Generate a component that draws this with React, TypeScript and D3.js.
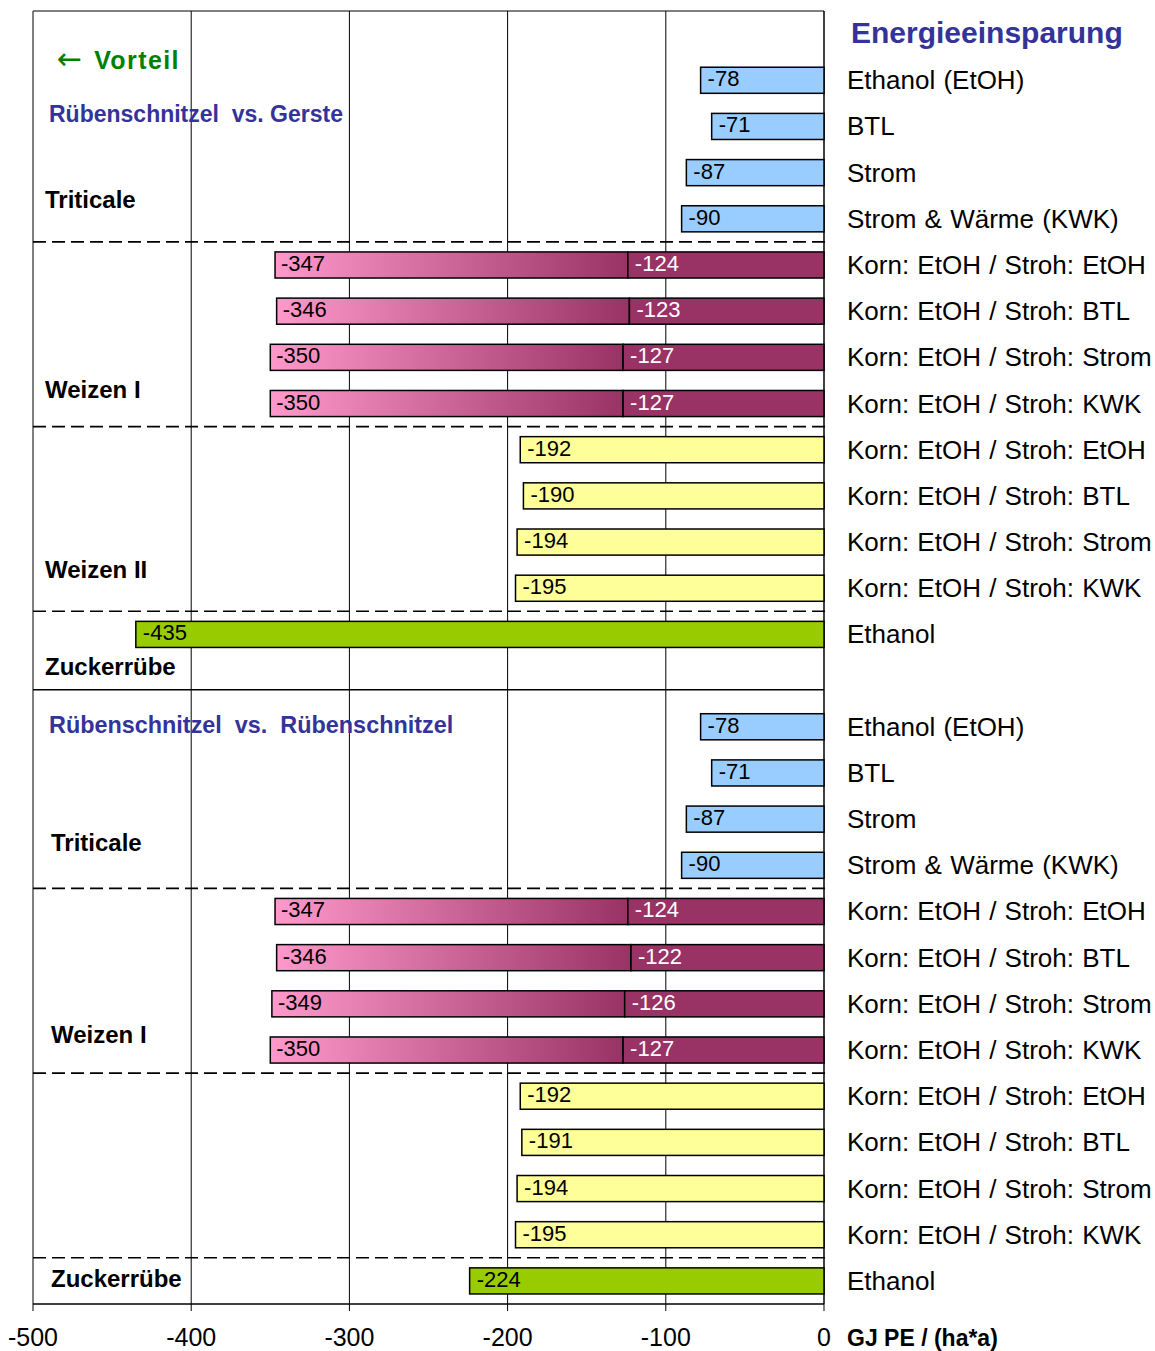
import React from "react";
import * as d3 from "d3";

// ---- data ----
const triticaleCats = ["Ethanol (EtOH)", "BTL", "Strom", "Strom & Wärme (KWK)"];
const wheatCats = [
  "Korn: EtOH / Stroh: EtOH",
  "Korn: EtOH / Stroh: BTL",
  "Korn: EtOH / Stroh: Strom",
  "Korn: EtOH / Stroh: KWK",
];
const sugarCats = ["Ethanol"];

const gersteTriticale = [-78, -71, -87, -90];
const gersteWeizenI = [-347, -346, -350, -350];
const gersteWeizenIKorn = [-124, -123, -127, -127];
const gersteWeizenII = [-192, -190, -194, -195];
const gersteZucker = [-435];

const rsTriticale = [-78, -71, -87, -90];
const rsWeizenI = [-347, -346, -349, -350];
const rsWeizenIKorn = [-124, -122, -126, -127];
const rsWeizenII = [-192, -191, -194, -195];
const rsZucker = [-224];

const xTicks = [-500, -400, -300, -200, -100, 0];
const gridTicks = [-400, -300, -200, -100];

const COLORS = {
  blue: "#99ccff",
  yellow: "#ffff99",
  green: "#99cc00",
  magenta: "#993366",
  pink: "#ff99cc",
  title: "#333399",
  vorteil: "#008000",
};

type Row = {
  row: number;
  label: string;
  kind: "blue" | "yellow" | "green" | "wheat";
  value: number;
  split?: number;
};

function buildHalf(start: number, tri: number[], w1: number[], w1k: number[], w2: number[], z: number[]): Row[] {
  const rows: Row[] = [];
  let r = start;
  tri.forEach((v, i) => rows.push({ row: r++, label: triticaleCats[i], kind: "blue", value: v }));
  w1.forEach((v, i) => rows.push({ row: r++, label: wheatCats[i], kind: "wheat", value: v, split: w1k[i] }));
  w2.forEach((v, i) => rows.push({ row: r++, label: wheatCats[i], kind: "yellow", value: v }));
  z.forEach((v, i) => rows.push({ row: r++, label: sugarCats[i], kind: "green", value: v }));
  return rows;
}

const rows: Row[] = [
  ...buildHalf(1, gersteTriticale, gersteWeizenI, gersteWeizenIKorn, gersteWeizenII, gersteZucker),
  ...buildHalf(15, rsTriticale, rsWeizenI, rsWeizenIKorn, rsWeizenII, rsZucker),
];

const dashedRows = [5, 9, 13, 19, 23, 27];

// group labels, positioned on the row scale (fractional row edges)
const groupLabels = [
  { text: "Triticale", row: 4.09, x: 45 },
  { text: "Weizen I", row: 8.21, x: 45 },
  { text: "Weizen II", row: 12.1, x: 45 },
  { text: "Zuckerrübe", row: 14.2, x: 45 },
  { text: "Triticale", row: 18.02, x: 51 },
  { text: "Weizen I", row: 22.17, x: 51 },
  { text: "Zuckerrübe", row: 27.46, x: 51 },
];

const FONT = "'Liberation Sans', Arial, Helvetica, sans-serif";

export default function App() {
  const W = 1155;
  const H = 1351;
  const x = d3.scaleLinear().domain([-500, 0]).range([33, 824]);
  const yEdge = d3.scaleLinear().domain([0, 28]).range([11, 1304]);
  const yc = (r: number) => yEdge(r + 0.5);
  const step = yEdge(1) - yEdge(0);
  const barH = step * 0.565;
  const top = yEdge(0);
  const bottom = yEdge(28);

  return (
    <svg width={W} height={H} style={{ position: "absolute", left: 0, top: 0, background: "#fff" }} fontFamily={FONT}>
      <defs>
        <linearGradient id="wheatGrad" x1="0" x2="1" y1="0" y2="0">
          <stop offset="0%" stopColor={COLORS.pink} />
          <stop offset="100%" stopColor={COLORS.magenta} />
        </linearGradient>
      </defs>
      <rect x={0} y={0} width={W} height={H} fill="#fff" />

      {/* gridlines */}
      {gridTicks.map((t) => (
        <line key={"g" + t} x1={x(t)} x2={x(t)} y1={top} y2={bottom} stroke="#000" strokeWidth={1} />
      ))}

      {/* frame */}
      <line x1={x(-500)} x2={x(0)} y1={top} y2={top} stroke="#000" strokeWidth={1} />
      <line x1={x(-500)} x2={x(-500)} y1={top} y2={bottom} stroke="#555" strokeWidth={1.5} />
      <line x1={x(0)} x2={x(0)} y1={top} y2={bottom} stroke="#000" strokeWidth={1.5} />

      {/* separators */}
      {dashedRows.map((r) => (
        <line
          key={"d" + r}
          x1={x(-500)}
          x2={x(0) + 6}
          y1={yEdge(r)}
          y2={yEdge(r)}
          stroke="#000"
          strokeWidth={1.6}
          strokeDasharray="13,6"
        />
      ))}
      <line x1={x(-500)} x2={x(0)} y1={yEdge(14.7)} y2={yEdge(14.7)} stroke="#000" strokeWidth={1.5} />

      {/* bars */}
      {rows.map((d) => {
        const cy = yc(d.row);
        const y0 = cy - barH / 2;
        if (d.kind === "wheat" && d.split !== undefined) {
          return (
            <g key={"b" + d.row}>
              <rect x={x(d.value)} y={y0} width={x(d.split) - x(d.value)} height={barH} fill="url(#wheatGrad)" stroke="#000" strokeWidth={1.5} />
              <rect x={x(d.split)} y={y0} width={x(0) - x(d.split)} height={barH} fill={COLORS.magenta} stroke="#000" strokeWidth={1.5} />
              <text x={x(d.value) + 6} y={cy + 6} fontSize={22} fill="#000">{d.value}</text>
              <text x={x(d.split) + 7} y={cy + 6} fontSize={22} fill="#fff">{d.split}</text>
            </g>
          );
        }
        const fill = d.kind === "blue" ? COLORS.blue : d.kind === "yellow" ? COLORS.yellow : COLORS.green;
        return (
          <g key={"b" + d.row}>
            <rect x={x(d.value)} y={y0} width={x(0) - x(d.value)} height={barH} fill={fill} stroke="#000" strokeWidth={1.5} />
            <text x={x(d.value) + 7} y={cy + 6} fontSize={22} fill="#000">{d.value}</text>
          </g>
        );
      })}

      {/* right category labels */}
      {rows.map((d) => (
        <text key={"l" + d.row} x={847} y={yc(d.row) + 9} fontSize={26} fill="#000" wordSpacing={1}>
          {d.label}
        </text>
      ))}

      {/* titles */}
      <text x={851} y={yEdge(0.48) + 10} fontSize={30} fontWeight="bold" fill={COLORS.title}>
        Energieeinsparung
      </text>
      <text x={57} y={yEdge(1.06) + 9} fill={COLORS.vorteil}>
        <tspan fontFamily="'DejaVu Sans', sans-serif" fontSize={30}>←</tspan>
        <tspan dx={12} fontSize={25} fontWeight="bold" letterSpacing={1.4}>Vorteil</tspan>
      </text>
      <text x={49} y={yEdge(2.23) + 8} fontSize={23} fontWeight="bold" fill={COLORS.title} style={{ whiteSpace: "pre" }}>
        {"Rübenschnitzel  vs. Gerste"}
      </text>
      <text x={49} y={yEdge(15.46) + 8} fontSize={23.4} fontWeight="bold" fill={COLORS.title} style={{ whiteSpace: "pre" }}>
        {"Rübenschnitzel  vs.  Rübenschnitzel"}
      </text>
      {groupLabels.map((g, i) => (
        <text key={"gl" + i} x={g.x} y={yEdge(g.row) + 8} fontSize={24} fontWeight="bold" fill="#000">
          {g.text}
        </text>
      ))}

      {/* x axis */}
      <line x1={x(-500)} x2={x(0)} y1={bottom} y2={bottom} stroke="#000" strokeWidth={1.5} />
      {xTicks.map((t) => (
        <g key={"t" + t}>
          <line x1={x(t)} x2={x(t)} y1={bottom} y2={bottom + 7} stroke="#000" strokeWidth={1} />
          <text x={x(t)} y={bottom + 42} fontSize={25} textAnchor="middle" fill="#000">
            {t}
          </text>
        </g>
      ))}
      <text x={847} y={bottom + 42} fontSize={23} fontWeight="bold" fill="#000">
        GJ PE / (ha*a)
      </text>
    </svg>
  );
}
